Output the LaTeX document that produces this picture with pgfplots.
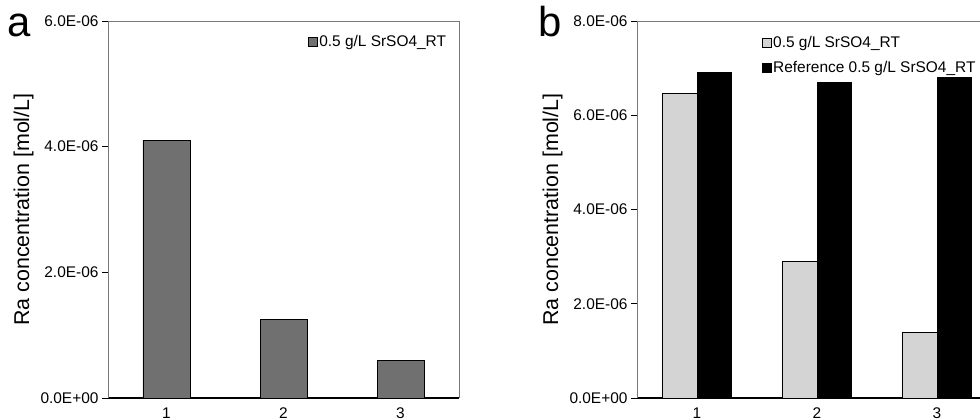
\documentclass[border=0pt]{standalone}
\usepackage{fontspec}
\setmainfont{Liberation Sans}
\usepackage{pgfplots}
\pgfplotsset{compat=1.18}
\definecolor{barA}{RGB}{112,112,112}
\definecolor{barB}{RGB}{212,212,212}
\definecolor{framec}{RGB}{120,120,120}
\pgfplotsset{
  sq/.style={legend image code/.code={\draw[##1, line width=0.6bp] (0bp,-4.5bp) rectangle (9bp,4.5bp);}},
  common/.style={
    scale only axis, height=377bp,
    ymin=0, xmin=0.5, xmax=3.5, xtick={1,2,3}, xticklabels={1,2,3},
    scaled y ticks=false,
    axis x line*=bottom, axis y line*=left,
    x axis line style={black, line width=1.1bp},
    y axis line style={framec, line width=0.9bp},
    xtick style={draw=none},
    ytick style={black, line width=0.9bp},
    tick align=outside, major tick length=6bp,
    yticklabel style={font=\fontsize{15.5}{16}\selectfont},
    xticklabel style={font=\fontsize{15.5}{16}\selectfont},
    ylabel={Ra concentration [mol/L]},
    ylabel style={font=\fontsize{21.5}{22}\selectfont},
    legend style={draw=none, fill=none, row sep=8bp, inner sep=2bp, font=\fontsize{15.5}{16}\selectfont},
    legend cell align=left,
    clip=false,
  }
}
\begin{document}
\begin{tikzpicture}[x=1bp,y=1bp]
\begin{axis}[common, at={(108bp,22bp)}, anchor=south west, width=351bp,
  ymax=6e-6, ytick={0,2e-6,4e-6,6e-6},
  yticklabels={0.0E+00,2.0E-06,4.0E-06,6.0E-06},
  ybar, bar width=47bp,
  legend style={at={(0.975,0.972)}, anchor=north east}]
\addplot[fill=barA, draw=black, line width=0.7bp, sq] coordinates {(1,4.10e-6) (2,1.25e-6) (3,0.60e-6)};
\addlegendentry{0.5 g/L SrSO4\_RT}
\draw[framec, line width=0.9bp] (rel axis cs:0,1) -- (rel axis cs:1,1) -- (rel axis cs:1,0);
\end{axis}
\begin{axis}[common, at={(637bp,22bp)}, anchor=south west, width=360bp,
  ymax=8e-6, ytick={0,2e-6,4e-6,6e-6,8e-6},
  yticklabels={0.0E+00,2.0E-06,4.0E-06,6.0E-06,8.0E-06},
  ybar=0pt, bar width=34.3bp,
  legend style={at={(0.34,0.97)}, anchor=north west}]
\addplot[fill=barB, draw=black, line width=0.7bp, sq] coordinates {(1,6.47e-6) (2,2.90e-6) (3,1.40e-6)};
\addlegendentry{0.5 g/L SrSO4\_RT}
\addplot[fill=black, draw=black, line width=0.7bp, sq] coordinates {(1,6.90e-6) (2,6.70e-6) (3,6.80e-6)};
\addlegendentry{Reference 0.5 g/L SrSO4\_RT}
\draw[framec, line width=0.9bp] (rel axis cs:0,1) -- (rel axis cs:1,1) -- (rel axis cs:1,0);
\end{axis}
\node[anchor=base west, inner sep=0pt] at (7bp,383bp) {\fontsize{42}{42}\selectfont a};
\node[anchor=base west, inner sep=0pt] at (538bp,383bp) {\fontsize{42}{42}\selectfont b};
\pgfresetboundingbox
\path[use as bounding box] (0,0) rectangle (980bp,420bp);
\end{tikzpicture}
\end{document}
